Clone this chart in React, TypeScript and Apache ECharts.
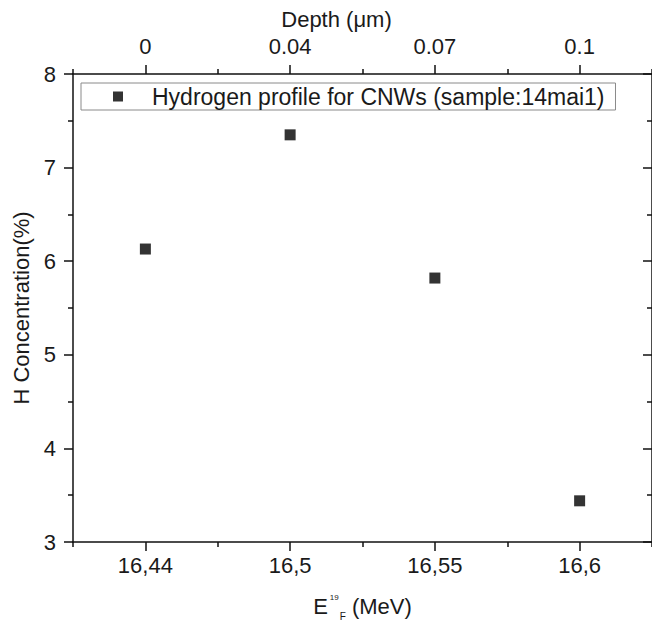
import React, { useEffect, useRef } from "react";
import * as echarts from "echarts";

const energyLabels = ["16,44", "16,5", "16,55", "16,6"];
const depthLabels = ["0", "0.04", "0.07", "0.1"];
const hConcentration = [6.13, 7.35, 5.82, 3.44];
const seriesName = "Hydrogen profile for CNWs (sample:14mai1)";

const FONT = "'Liberation Sans', Arial, sans-serif";
const AX = "#111111";
const TXT = "#1a1a1a";

export default function App() {
  const ref = useRef<HTMLDivElement>(null);
  useEffect(() => {
    if (!ref.current) return;
    const chart = echarts.init(ref.current, undefined, { renderer: "svg" });
    const lineStyle = { color: AX, width: 1.5 };
    const mainX = (pos: string, data: string[], extra: any) => ({
      type: "category",
      position: pos,
      data,
      boundaryGap: true,
      axisLine: { show: true, onZero: false, lineStyle },
      axisTick: { show: true, alignWithLabel: true, length: 9, lineStyle },
      splitLine: { show: false },
      ...extra,
    });
    const minorX = (pos: string, data: string[]) => ({
      type: "category",
      position: pos,
      data,
      boundaryGap: true,
      axisLine: { show: false, onZero: false },
      axisTick: { show: true, alignWithLabel: false, interval: 0, length: 5, lineStyle },
      axisLabel: { show: false },
      splitLine: { show: false },
    });
    chart.setOption({
      animation: false,
      backgroundColor: "#ffffff",
      textStyle: { fontFamily: FONT },
      grid: { left: 73, top: 74, width: 586, height: 479, containLabel: false },
      legend: {
        left: 81,
        top: 83,
        padding: [2, 11, 2, 32],
        itemWidth: 10,
        itemHeight: 10,
        icon: "rect",
        borderColor: "#8a8a8a",
        borderWidth: 1,
        borderRadius: 0,
        backgroundColor: "#ffffff",
        formatter: (name: string) => "{p|}" + name,
        textStyle: {
          fontFamily: FONT,
          fontSize: 23,
          color: TXT,
          rich: { p: { width: 24 } },
        },
        data: [seriesName],
      },
      xAxis: [
        mainX("bottom", energyLabels, {
          axisLabel: { margin: 12, fontFamily: FONT, fontSize: 22, color: TXT },
          name: "{a|E}{sup|19}{sub|F} {a|(MeV)}",
          nameLocation: "middle",
          nameGap: 49,
          nameTextStyle: {
            fontFamily: FONT,
            fontSize: 22,
            color: TXT,
            rich: {
              a: { fontFamily: FONT, fontSize: 22, color: TXT, lineHeight: 30 },
              sup: { fontFamily: FONT, fontSize: 8, color: TXT, verticalAlign: "top", padding: [2, 1, 0, 2], lineHeight: 30 },
              sub: { fontFamily: FONT, fontSize: 10, color: TXT, verticalAlign: "bottom", lineHeight: 30 },
            },
          },
        }),
        minorX("bottom", energyLabels),
        mainX("top", depthLabels, {
          axisLabel: { margin: 17, fontFamily: FONT, fontSize: 22, color: TXT },
          name: "Depth (\u03bcm)",
          nameLocation: "middle",
          nameGap: 43,
          nameTextStyle: { fontFamily: FONT, fontSize: 22, color: TXT, padding: [0, 52, 0, 0] },
        }),
        minorX("top", depthLabels),
      ],
      yAxis: [
        {
          type: "value",
          position: "left",
          min: 3,
          max: 8,
          interval: 1,
          axisLine: { show: true, onZero: false, lineStyle },
          axisTick: { show: true, length: 9, lineStyle },
          minorTick: { show: true, splitNumber: 2, length: 5, lineStyle },
          axisLabel: { margin: 17, fontFamily: FONT, fontSize: 22, color: TXT },
          splitLine: { show: false },
          minorSplitLine: { show: false },
          name: "H Concentration(%)",
          nameLocation: "middle",
          nameGap: 40,
          nameTextStyle: { fontFamily: FONT, fontSize: 22, color: TXT },
        },
        {
          type: "value",
          position: "right",
          min: 3,
          max: 8,
          interval: 1,
          axisLine: { show: true, onZero: false, lineStyle },
          axisTick: { show: true, inside: true, length: 9, lineStyle },
          minorTick: { show: true, splitNumber: 2, length: 5, lineStyle },
          axisLabel: { show: false },
          splitLine: { show: false },
        },
      ],
      series: [
        {
          name: seriesName,
          type: "scatter",
          xAxisIndex: 0,
          yAxisIndex: 0,
          symbol: "rect",
          symbolSize: 11,
          itemStyle: { color: "#000000" },
          data: hConcentration,
        },
      ],
    });
    return () => chart.dispose();
  }, []);
  return (
    <div
      ref={ref}
      style={{ position: "fixed", left: 0, top: 0, width: 652, height: 626, background: "#fff" }}
    />
  );
}
